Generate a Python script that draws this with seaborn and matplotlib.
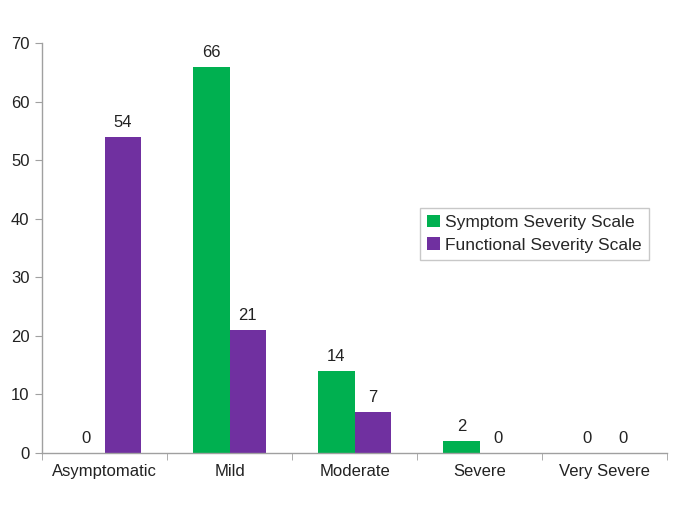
import matplotlib
matplotlib.use("Agg")
import matplotlib.pyplot as plt
import seaborn as sns
import pandas as pd
from matplotlib.ticker import FixedLocator

categories = ["Asymptomatic", "Mild", "Moderate", "Severe", "Very Severe"]
symptom = [0, 66, 14, 2, 0]
functional = [54, 21, 7, 0, 0]
series_names = ["Symptom Severity Scale", "Functional Severity Scale"]
colors = ["#00B050", "#7030A0"]

df = pd.DataFrame({
    "category": categories * 2,
    "value": symptom + functional,
    "series": [series_names[0]] * len(categories) + [series_names[1]] * len(categories),
})

sns.set_style("white")
plt.rcParams["font.family"] = ["Liberation Sans", "DejaVu Sans"]

fig = plt.figure(figsize=(6.85, 5.13), dpi=100)
ax = fig.add_axes([0.0613, 0.117, 0.9127, 0.799])

sns.barplot(data=df, x="category", y="value", hue="series", palette=colors,
            width=0.58, ax=ax, saturation=1, legend=True, linewidth=0, edgecolor="none")

for cont in ax.containers:
    ax.bar_label(cont, labels=[f"{int(v)}" for v in cont.datavalues],
                 padding=5, fontsize=12, color="#222222")

ax.set_ylim(0, 70)
ax.set_xlim(-0.5, 4.5)
ax.set_yticks(range(0, 71, 10))
ax.set_xlabel("")
ax.set_ylabel("")
ax.tick_params(axis="x", which="major", length=0, labelsize=12, colors="#222222", pad=8)
ax.tick_params(axis="y", which="major", length=5, labelsize=12, colors="#222222",
               left=True, color="#A0A0A0", pad=4)
ax.xaxis.set_minor_locator(FixedLocator([-0.5, 0.5, 1.5, 2.5, 3.5, 4.5]))
ax.tick_params(axis="x", which="minor", length=5, bottom=True, color="#A0A0A0")

for s in ["top", "right"]:
    ax.spines[s].set_visible(False)
for s in ["left", "bottom"]:
    ax.spines[s].set_color("#A0A0A0")
    ax.spines[s].set_linewidth(1)

leg = ax.legend(loc="upper left", bbox_to_anchor=(0.59, 0.62), frameon=True,
                fancybox=False, fontsize=12.5, handlelength=0.7, handleheight=0.7,
                handletextpad=0.3, borderpad=0.45, labelspacing=0.4)
leg.get_frame().set_edgecolor("#BBBBBB")
leg.get_frame().set_linewidth(1)

fig.savefig("out.png", dpi=100)
